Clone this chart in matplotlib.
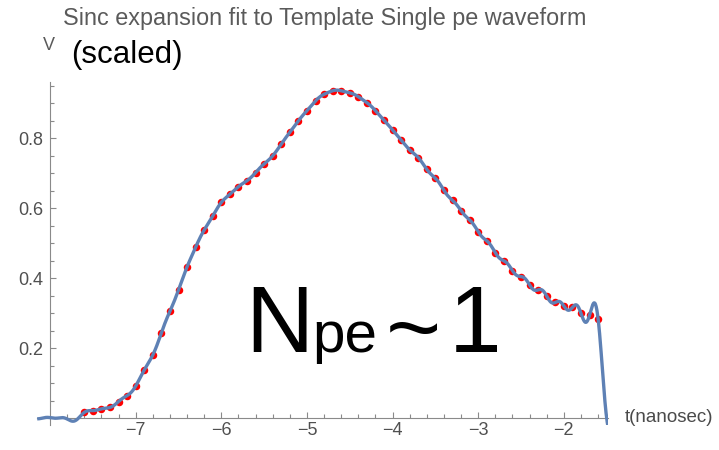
import numpy as np
import matplotlib
matplotlib.use("Agg")
import matplotlib.pyplot as plt

plt.rcParams['font.family'] = ['Liberation Sans', 'DejaVu Sans']

# Template single-pe waveform, sampled every 0.1 ns starting at -7.6 ns (scaled volts)
t_first = -7.6
dt = 0.1
v_samples = [
    0.017, 0.022, 0.027, 0.031, 0.048, 0.065, 0.092, 0.138, 0.181, 0.244,
    0.306, 0.367, 0.433, 0.489, 0.538, 0.578, 0.617, 0.640, 0.662, 0.679,
    0.702, 0.727, 0.750, 0.784, 0.817, 0.850, 0.879, 0.907, 0.926, 0.936,
    0.936, 0.930, 0.919, 0.902, 0.879, 0.852, 0.824, 0.795, 0.767, 0.745,
    0.711, 0.686, 0.651, 0.623, 0.593, 0.567, 0.533, 0.507, 0.473, 0.450,
    0.422, 0.405, 0.381, 0.367, 0.349, 0.331, 0.321, 0.317, 0.300, 0.295,
    0.284,
]
# baseline coefficients of the fit before the pulse (-8.2 .. -7.7 ns)
v_lead = [0.0, 0.0, 0.002, 0.001, -0.002, -0.006]
# coefficients after the record ends (-1.5 .. -1.0 ns)
v_trail = [0.0, 0.0, 0.0, 0.0, 0.0, 0.0]

x_ticks = [-7, -6, -5, -4, -3, -2]
y_ticks = [0.2, 0.4, 0.6, 0.8]

t_samples = t_first + dt * np.arange(len(v_samples))
coeffs = np.array(v_lead + v_samples + v_trail)
nodes = t_first - dt * len(v_lead) + dt * np.arange(len(coeffs))


def sinc_expansion(t, nodes, coeffs, step):
    """Whittaker-Shannon sum: f(t) = sum_k c_k sinc((t - t_k)/step)."""
    return np.sum(coeffs[None, :] * np.sinc((t[:, None] - nodes[None, :]) / step), axis=1)


t_fine = np.linspace(-8.15, -1.485, 1500)
v_fit = sinc_expansion(t_fine, nodes, coeffs, dt)

W, H = 719, 450
fig = plt.figure(figsize=(W / 100, H / 100), dpi=100)

# axes box in pixel units
x0, x1 = 37.2, 608.4
y_top, y_bot = 82.0, 425.3
ax = fig.add_axes([x0 / W, 1 - y_bot / H, (x1 - x0) / W, (y_bot - y_top) / H])
ax.set_xlim(-8.15, -1.48)
ax.set_ylim(-0.02, 0.961)

ax.plot(t_samples, v_samples, 'o', color='red', markersize=5.4,
        markeredgewidth=0, zorder=2)
ax.plot(t_fine, v_fit, color='#5E81B5', lw=2.4, zorder=3,
        solid_capstyle='butt')

axis_col = '#8a8a8a'
for side in ('top', 'right'):
    ax.spines[side].set_visible(False)
ax.spines['left'].set_position(('data', -8))
ax.spines['bottom'].set_position(('data', 0))
for side in ('left', 'bottom'):
    ax.spines[side].set_color(axis_col)
    ax.spines[side].set_linewidth(0.8)

ax.set_xticks(x_ticks)
ax.set_xticklabels([f"\u2212{abs(v)}" for v in x_ticks])
ax.set_yticks(y_ticks)
ax.set_yticklabels([f"{v:.1f}" for v in y_ticks])
x_minor = [round(-7.8 + 0.2 * i, 1) for i in range(32)]
x_minor = [v for v in x_minor if abs(v - round(v)) > 1e-6]
y_minor = [round(0.05 * i, 2) for i in range(1, 20)]
y_minor = [v for v in y_minor if v not in y_ticks]
ax.set_xticks(x_minor, minor=True)
ax.set_yticks(y_minor, minor=True)
ax.tick_params(which='both', direction='in', color=axis_col, width=0.8,
               labelsize=13, labelcolor='#505050')
ax.tick_params(which='major', length=4.5)
ax.tick_params(which='minor', length=2.6)
ax.tick_params(axis='x', pad=3)
ax.tick_params(axis='y', pad=5)
ax.patch.set_alpha(0)


def ftext(x, y, s, **kw):
    fig.text(x / W, 1 - y / H, s, **kw)


ftext(63, 25, "Sinc expansion fit to Template Single pe waveform",
      fontsize=16.8, color='#5a5a5a', va='baseline', ha='left')
ftext(49, 50, "V", fontsize=13, color='#5a5a5a', va='baseline', ha='center')
ftext(71, 63.3, "(scaled)", fontsize=22.5, color='black',
      va='baseline', ha='left')
ftext(625, 418, "t(nanosec)", fontsize=13.5, color='#4a4a4a',
      va='center', ha='left')

# N_pe ~ 1 annotation
ftext(245, 352, "N", fontsize=68, color='black', va='baseline', ha='left')
ftext(312, 352, "pe", fontsize=42, color='black', va='baseline', ha='left')
ftext(386, 360, "~", fontsize=68, color='black', va='baseline', ha='left')
ftext(449, 352, "1", fontsize=68, color='black', va='baseline', ha='left')

fig.savefig("out.png", dpi=100)
